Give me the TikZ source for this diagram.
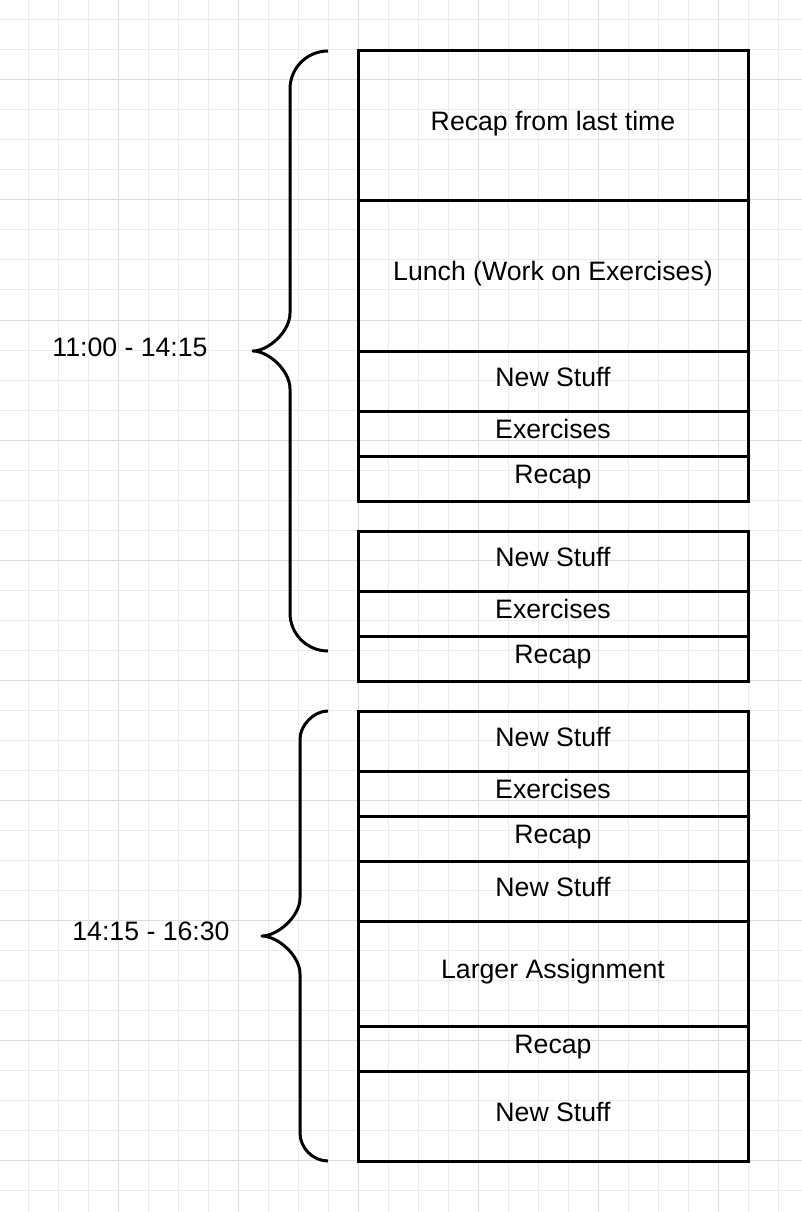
\documentclass[tikz,border=0pt]{standalone}
\usepackage{fontspec}
\setmainfont{Liberation Sans}
\usepackage{xcolor}
\definecolor{gridminor}{HTML}{EBEBEB}
\definecolor{gridmajor}{HTML}{DCDCDC}
\begin{document}
\begin{tikzpicture}[x=0.75pt,y=-0.75pt,
  slot/.style={rectangle,draw,line width=2.25pt,outer sep=0pt,inner sep=0pt,minimum width=292.5pt,minimum height=#1,text height=15pt,text depth=7.5pt,font=\fontsize{20}{24}\selectfont},
  timespan/.style={font=\fontsize{20}{24}\selectfont},
  brace/.style={line width=2.25pt,line join=round}]
\useasboundingbox (0,0) rectangle (802,1212);
\fill[white] (0,0) rectangle (802,1212);
\foreach \gx in {28,58,...,800} \draw[gridminor,line width=0.75pt] (\gx,0) -- (\gx,1212);
\foreach \gy in {20,50,...,1210} \draw[gridminor,line width=0.75pt] (0,\gy) -- (802,\gy);
\foreach \gx in {118,238,...,800} \draw[gridmajor,line width=0.75pt] (\gx,0) -- (\gx,1212);
\foreach \gy in {80,200,...,1210} \draw[gridmajor,line width=0.75pt] (0,\gy) -- (802,\gy);

\node [slot=112.5pt,anchor=north west] (lastrecap) at (358,51) {Recap from last time};
\node [slot=112.5pt,below=0pt,at=(lastrecap.south)] (lunch) {Lunch (Work on Exercises)};
\node [slot=45pt,below=0pt,at=(lunch.south)] (new1) {New Stuff};
\node [slot=33.75pt,below=0pt,at=(new1.south)] (ex1) {Exercises};
\node [slot=33.75pt,below=0pt,at=(ex1.south)] (recap1) {Recap};
\node [slot=45pt,below=22.5pt,at=(recap1.south)] (new2) {New Stuff};
\node [slot=33.75pt,below=0pt,at=(new2.south)] (ex2) {Exercises};
\node [slot=33.75pt,below=0pt,at=(ex2.south)] (recap2) {Recap};
\node [slot=45pt,below=22.5pt,at=(recap2.south)] (new3) {New Stuff};
\node [slot=33.75pt,below=0pt,at=(new3.south)] (ex3) {Exercises};
\node [slot=33.75pt,below=0pt,at=(ex3.south)] (recap3) {Recap};
\node [slot=45pt,below=0pt,at=(recap3.south)] (new4) {New Stuff};
\node [slot=78.75pt,below=0pt,at=(new4.south)] (assign) {Larger Assignment};
\node [slot=33.75pt,below=0pt,at=(assign.south)] (recap4) {Recap};
\node [slot=67.5pt,below=0pt,at=(recap4.south)] (new5) {New Stuff};

\draw [brace] (328,51) .. controls (307,51) and (290,68) .. (290,89) -- (290,313)
  .. controls (290,332) and (268,351) .. (253,351) coordinate (tip1)
  .. controls (268,351) and (290,370) .. (290,389) -- (290,613)
  .. controls (290,634) and (307,651) .. (328,651);
\draw [brace] (328,711) .. controls (313,711) and (300,726) .. (300,739) -- (300,898)
  .. controls (300,917) and (277,936) .. (262,936) coordinate (tip2)
  .. controls (277,936) and (300,955) .. (300,974) -- (300,1133)
  .. controls (300,1148) and (313,1161) .. (328,1161);

\node [timespan] (morning) at (130,347) {11:00 - 14:15};
\node [timespan] (afternoon) at (151,931) {14:15 - 16:30};
\end{tikzpicture}
\end{document}
